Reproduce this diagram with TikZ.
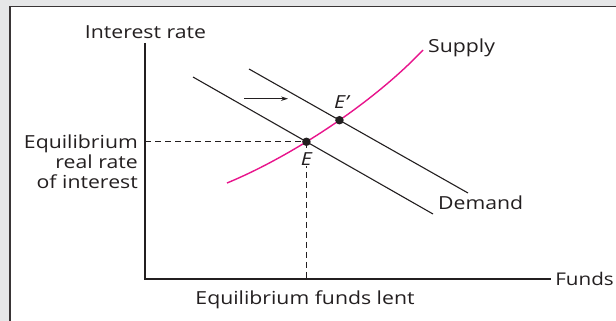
\documentclass[tikz,border=0pt]{standalone}
\usepackage{fontspec}
\setmainfont{Open Sans}[FakeStretch=1.18]
\usetikzlibrary{arrows.meta,intersections,calc}
\definecolor{bg}{RGB}{230,231,232}
\definecolor{ink}{RGB}{35,31,32}
\definecolor{mag}{RGB}{232,20,140}
\begin{document}
\begin{tikzpicture}[x=1pt,y=-1pt,
  lbl/.style={font=\fontsize{18}{20}\selectfont, text=ink, inner sep=0pt},
  axisline/.style={ink, line width=1.1pt},
  demandline/.style={ink, line width=1.1pt},
  supplyline/.style={mag, line width=1.4pt},
  guide/.style={ink, line width=1pt, dash pattern=on 6pt off 4pt},
  dot/.style={circle, fill=ink, inner sep=0pt, minimum size=8.5pt}]
\useasboundingbox (0,0) rectangle (616,321);
\fill[bg] (0,0) rectangle (616,321);
\fill[white] (10,6.5) rectangle (616,321);
\draw[line width=1.5pt, ink!90] (10,321) -- (10,6.5) -- (616,6.5);
% axes
\coordinate (O) at (145,279);
\coordinate (ytop) at (145,43);
\coordinate (xend) at (551,279);
\draw[axisline] (ytop) -- (O) -- (xend);
\node[lbl, font=\fontsize{17.5}{20}\selectfont, anchor=east] (funds) at (614,279) {Funds};
\node[lbl] (irate) at (145.5,32) {Interest rate};
% curves
\coordinate (d1a) at (193,77);
\coordinate (d1b) at (433,214);
\coordinate (d2a) at (249,69);
\coordinate (d2b) at (468,193);
\coordinate (s0) at (227,183);
\coordinate (s1) at (423,50);
\draw[demandline, name path=d1] (d1a) -- (d1b);
\draw[demandline, name path=d2] (d2a) -- (d2b);
\draw[supplyline, name path=sup] (s0) .. controls (290,157) and (372,104) .. (s1);
\path[name intersections={of=d1 and sup, by=E}];
\path[name intersections={of=d2 and sup, by=Ep}];
% shift arrow
\coordinate (arA) at (244,98.7);
\coordinate (arB) at (288,98.7);
\draw[ink, line width=1pt, -{Stealth[length=7pt,width=4.5pt]}] (arA) -- (arB);
% guides
\draw[guide] (O |- E) -- (E);
\draw[guide] (E) -- (E |- O);
\node[dot] (Edot) at (E) {};
\node[dot] (Epdot) at (Ep) {};
\node[lbl, font=\fontsize{18}{20}\selectfont\itshape, fill=white, inner sep=1pt] (Elab) at ($(E)+(0,17)$) {E};
\node[lbl, font=\fontsize{18}{20}\selectfont\itshape] (Eplab) at ($(Ep)+(2,-18)$) {E’};
% labels
\node[lbl, align=right, anchor=east] (eqr) at (138,162) {Equilibrium\\real rate\\of interest};
\node[lbl] (eqf) at (305,300) {Equilibrium funds lent};
\node[lbl, anchor=west] (slab) at (428,48) {Supply};
\node[lbl, anchor=west] (dlab) at (438,203) {Demand};
\end{tikzpicture}
\end{document}
